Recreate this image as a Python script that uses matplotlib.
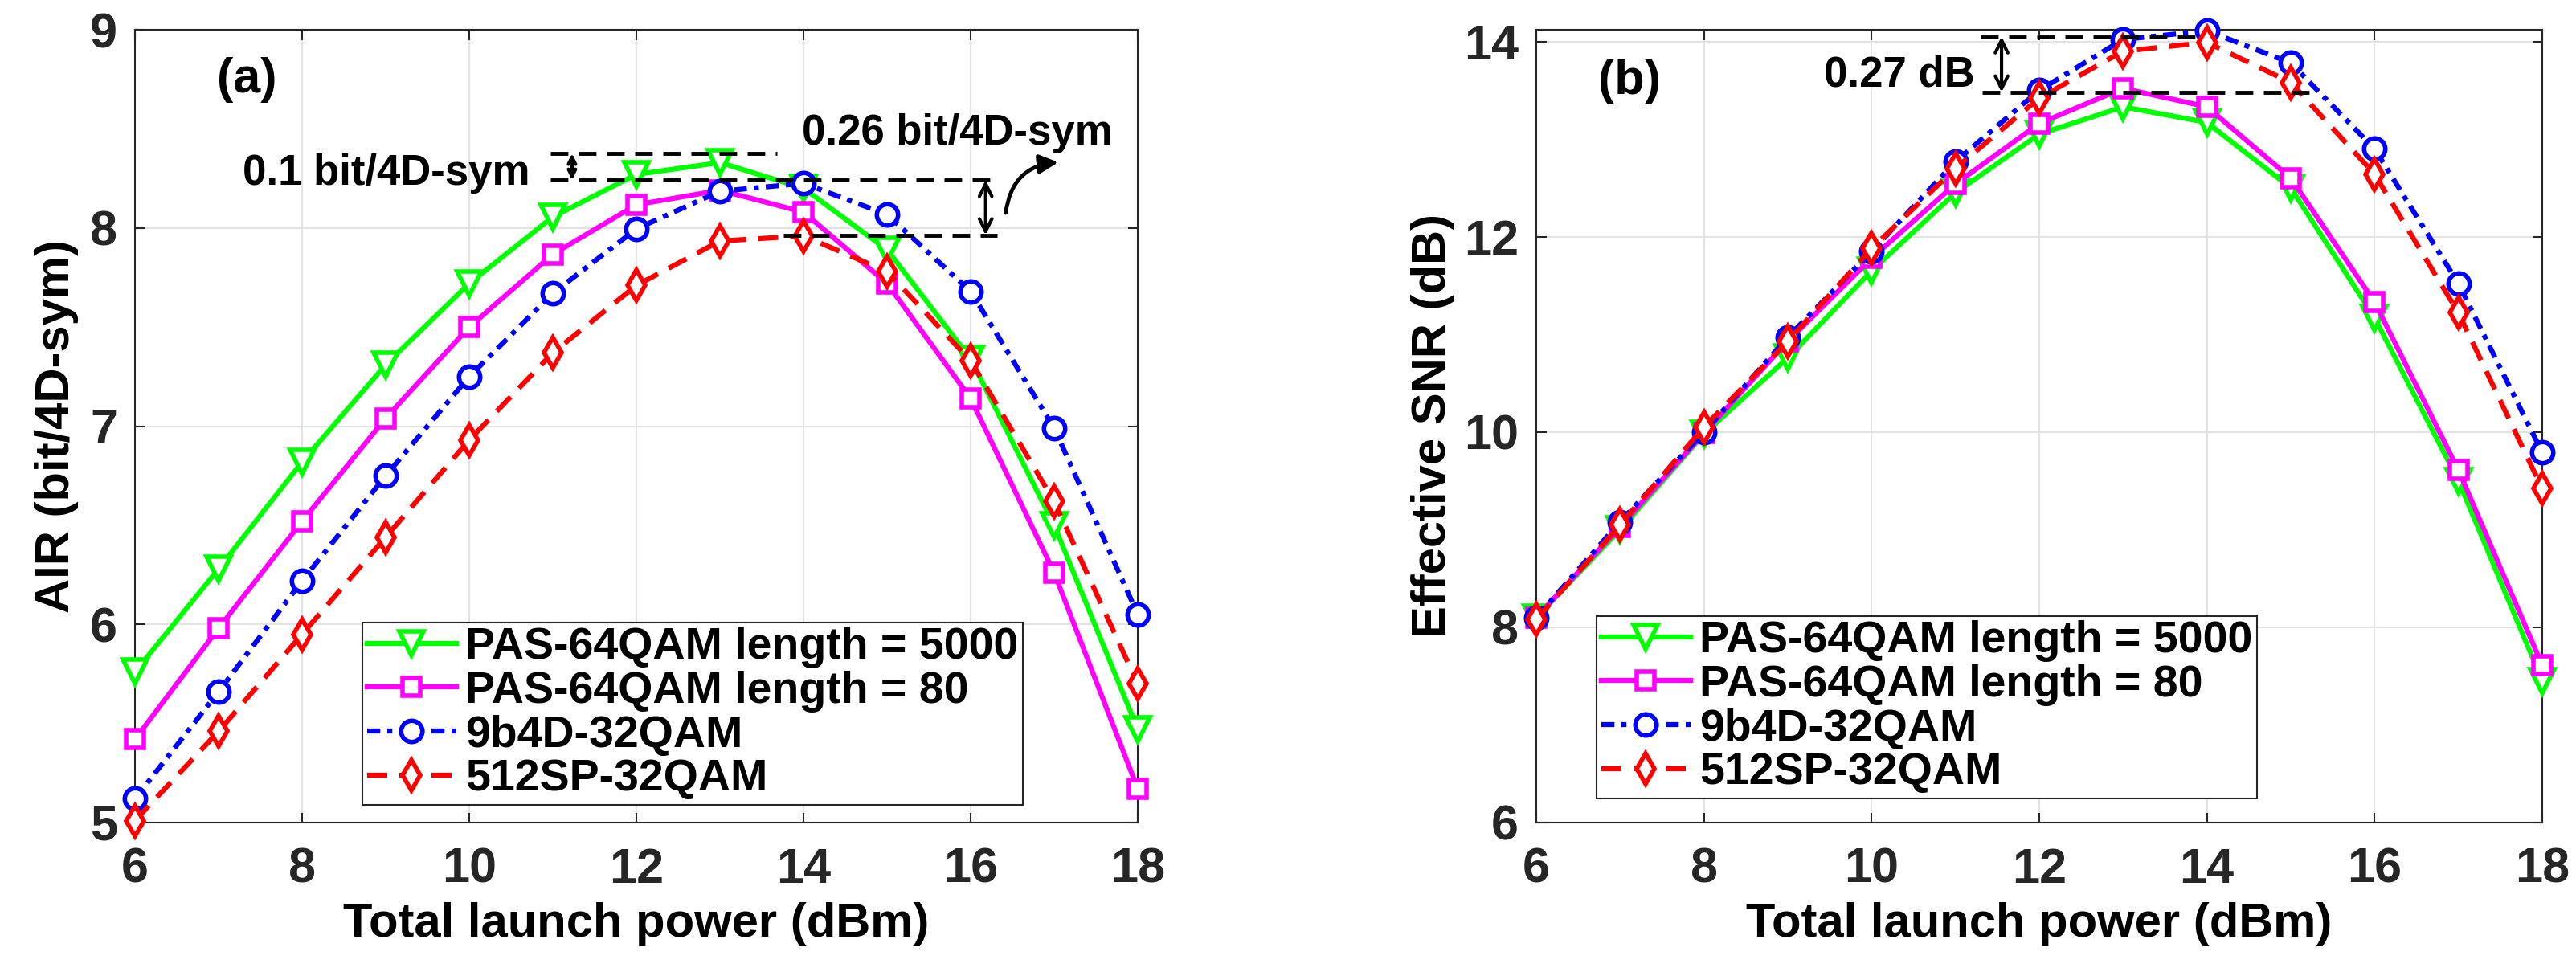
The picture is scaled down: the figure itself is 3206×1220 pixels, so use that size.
import matplotlib
matplotlib.use('Agg')
import matplotlib.pyplot as plt

# данные
power = [6, 7, 8, 9, 10, 11, 12, 13, 14, 15, 16, 17, 18]

labels = ['PAS-64QAM length = 5000', 'PAS-64QAM length = 80',
          '9b4D-32QAM', '512SP-32QAM']

# (a) AIR, bit/4D-sym
air_pas5000 = [5.76, 6.28, 6.82, 7.31, 7.72, 8.056, 8.27, 8.33, 8.2, 7.89, 7.34, 6.5, 5.47]
air_pas80 = [5.42, 5.98, 6.52, 7.04, 7.5, 7.867, 8.117, 8.19, 8.08, 7.72, 7.14, 6.26, 5.17]
air_9b4d = [5.12, 5.66, 6.22, 6.75, 7.25, 7.67, 7.995, 8.185, 8.225, 8.068, 7.68, 6.99, 6.05]
air_512sp = [5.01, 5.46, 5.95, 6.44, 6.93, 7.37, 7.71, 7.934, 7.96, 7.78, 7.33, 6.62, 5.7]

# (b) effective SNR, dB
snr_pas5000 = [8.1, 9.0, 9.98, 10.76, 11.65, 12.45, 13.05, 13.33, 13.17, 12.5, 11.17, 9.5, 7.45]
snr_pas80 = [8.1, 9.03, 9.99, 10.93, 11.78, 12.54, 13.16, 13.52, 13.33, 12.6, 11.33, 9.61, 7.61]
snr_9b4d = [8.1, 9.08, 10.0, 10.97, 11.85, 12.77, 13.5, 14.02, 14.11, 13.78, 12.9, 11.52, 9.79]
snr_512sp = [8.08, 9.05, 10.05, 10.93, 11.88, 12.7, 13.42, 13.9, 13.99, 13.58, 12.64, 11.22, 9.42]

# уровни пунктирных отметок
a_levels = [8.376, 8.241, 7.964]
b_levels = [14.05, 13.48]

colors = ['#00FF00', '#FF00FF', '#0000FF', '#FF0000']
markers = ['v', 's', 'o', 'd']
msizes = [21, 16, 19, 19]
styles = ['-', '-', (0, (2.6, 1.4, 1, 1.4)), (0, (4.0, 2.4))]

plt.rcParams['font.family'] = ['Liberation Sans', 'DejaVu Sans']
plt.rcParams['font.weight'] = 'bold'
plt.rcParams['axes.labelweight'] = 'bold'

W, H = 3206, 1220
fig = plt.figure(figsize=(W / 100, H / 100), dpi=100)
ax1 = fig.add_axes([168 / W, (H - 1024) / H, 1248 / W, 987 / H])
ax2 = fig.add_axes([1912 / W, (H - 1024) / H, 1252 / W, 987 / H])


def draw(ax, series, ylabel, ylim, yticks, labelpad):
    for y, c, m, ms, ls, lab in zip(series, colors, markers, msizes, styles, labels):
        ax.plot(power, y, color=c, marker=m, markersize=ms, linestyle=ls,
                linewidth=4.5, markerfacecolor='white', markeredgewidth=4,
                markeredgecolor=c, label=lab, clip_on=False, zorder=3)
    ax.set_xlim(6, 18)
    ax.set_ylim(*ylim)
    ax.set_xticks([6, 8, 10, 12, 14, 16, 18])
    ax.set_yticks(yticks)
    ax.grid(True, color='#e3e3e3', linewidth=1.5)
    ax.set_axisbelow(True)
    for s in ax.spines.values():
        s.set_color('#262626')
        s.set_linewidth(1.5)
    ax.tick_params(direction='in', length=9, width=1.5, color='#262626',
                   top=True, right=True, labelsize=44, labelcolor='#262626')
    ax.tick_params(axis='x', pad=22)
    ax.tick_params(axis='y', pad=16)
    ax.set_xlabel('Total launch power (dBm)', fontsize=43, labelpad=8)
    ax.set_ylabel(ylabel, fontsize=43, labelpad=labelpad)


draw(ax1, [air_pas5000, air_pas80, air_9b4d, air_512sp],
     'AIR (bit/4D-sym)', (5, 9), [5, 6, 7, 8, 9], 10)
draw(ax2, [snr_pas5000, snr_pas80, snr_9b4d, snr_512sp],
     'Effective SNR (dB)', (6, 14.12), [6, 8, 10, 12, 14], 8)

for ax, x0, y0 in [(ax1, 0.2268, 0.0223), (ax2, 0.0599, 0.0304)]:
    leg = ax.legend(loc='lower left', bbox_to_anchor=(x0, y0), fontsize=40,
                    fancybox=False, framealpha=1, edgecolor='#262626',
                    borderpad=0.1, labelspacing=0.05, handlelength=2.0,
                    handletextpad=0.2, borderaxespad=0)
    leg.get_frame().set_linewidth(1.5)

dash_kw = dict(color='black', linewidth=3.5, linestyle=(0, (4.5, 2.7)), zorder=4)
arr_kw = dict(arrowstyle='<->', color='black', lw=3, shrinkA=0, shrinkB=0,
              mutation_scale=28)

# (a) отметки
ax1.plot([10.97, 13.68], [a_levels[0]] * 2, **dash_kw)
ax1.plot([10.97, 16.27], [a_levels[1]] * 2, **dash_kw)
ax1.plot([13.76, 16.32], [a_levels[2]] * 2, **dash_kw)
ax1.annotate('', xy=(11.23, a_levels[0]), xytext=(11.23, a_levels[1]),
             arrowprops=dict(arr_kw, mutation_scale=16))
ax1.annotate('', xy=(16.18, a_levels[1]), xytext=(16.18, a_levels[2]),
             arrowprops=arr_kw)
ax1.annotate('', xy=(17.05, 8.331), xytext=(16.42, 8.076),
             arrowprops=dict(arrowstyle='-|>', color='black', lw=3.5,
                             mutation_scale=35, shrinkA=0, shrinkB=0,
                             connectionstyle='arc3,rad=-0.4'))
ax1.text(10.73, 8.218, '0.1 bit/4D-sym', fontsize=38, ha='right', va='baseline')
ax1.text(17.70, 8.42, '0.26 bit/4D-sym', fontsize=38, ha='right', va='baseline')
ax1.text(7.34, 8.745, '(a)', fontsize=44, ha='center', va='center')

# (b) отметки
ax2.plot([11.30, 13.9], [b_levels[0]] * 2, **dash_kw)
ax2.plot([11.32, 15.31], [b_levels[1]] * 2, **dash_kw)
ax2.annotate('', xy=(11.55, b_levels[0]), xytext=(11.55, b_levels[1]),
             arrowprops=arr_kw)
ax2.text(11.23, 13.54, '0.27 dB', fontsize=38, ha='right', va='baseline')
ax2.text(7.11, 13.59, '(b)', fontsize=44, ha='center', va='center')

fig.savefig('out.png', dpi=100)
